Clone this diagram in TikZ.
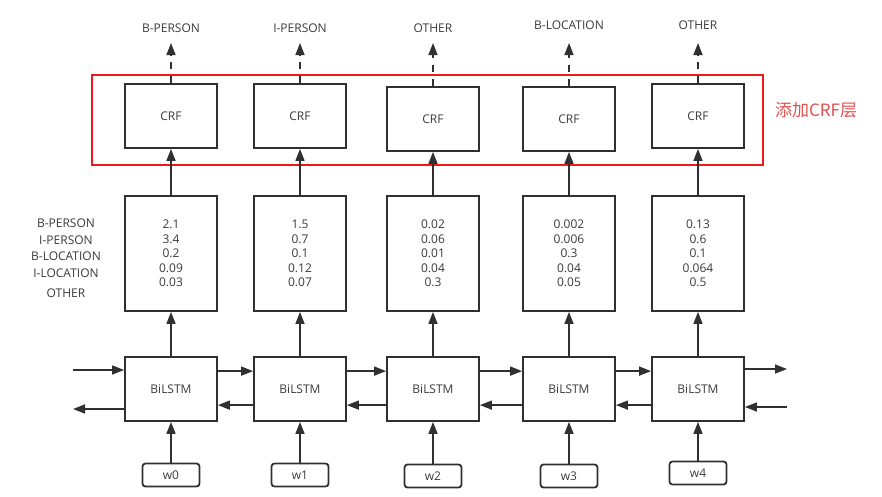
\documentclass[tikz,border=0pt]{standalone}
\usepackage{fontspec}
\setmainfont{Open Sans}
\newfontfamily\cjk{Noto Sans CJK SC}
\usetikzlibrary{arrows.meta,calc}

\definecolor{boxgray}{HTML}{303030}
\definecolor{txtgray}{HTML}{3A3A3A}
\definecolor{crfred}{HTML}{F01818}
\definecolor{notered}{HTML}{E0504F}
\newcommand\lblfont{\fontsize{12}{14.5}\selectfont}

\tikzset{
	box/.style={draw=boxgray, line width=1.8pt, minimum width=92pt, inner sep=0pt, font=\lblfont, text=txtgray},
	word/.style={draw=boxgray, line width=1.8pt, rounded corners=3pt, minimum width=57pt, minimum height=23pt, inner sep=0pt, font=\lblfont, text=txtgray},
	taglbl/.style={font=\lblfont, text=txtgray, inner sep=0pt},
	arr/.style={draw=boxgray, line width=1.5pt, -{Triangle[length=12pt,width=9pt]}},
	redbox/.style={draw=crfred, line width=1.9pt},
	note/.style={font=\cjk\fontsize{17}{20}\selectfont, text=notered, inner sep=0pt}
}

\begin{document}
\begin{tikzpicture}[x=1pt,y=-1pt]
	\useasboundingbox (0,0) rectangle (882,496);
	% CRF layer frame
	\draw[redbox] (92,75) rectangle (763,165);
	\node[note] (note) at (816,110) {添加CRF层};
	% columns
	\foreach \i/\x/\cy/\wy/\tag/\ty/\sc in {
		0/171/116/475/B-PERSON/28/{2.1\\3.4\\0.2\\0.09\\0.03},
		1/300/116/475/I-PERSON/28/{1.5\\0.7\\0.1\\0.12\\0.07},
		2/433/119/476/OTHER/28/{0.02\\0.06\\0.01\\0.04\\0.3},
		3/569/119/476/B-LOCATION/25/{0.002\\0.006\\0.3\\0.04\\0.05},
		4/698/116/473/OTHER/25/{0.13\\0.6\\0.1\\0.064\\0.5}}{
		\node[box, minimum height=64pt] (crf\i) at (\x,\cy) {CRF};
		\node[box, minimum height=115pt, align=center] (sc\i) at (\x,253.5) {\sc};
		\node[box, minimum height=64pt] (lstm\i) at (\x,389) {BiLSTM};
		\node[word] (w\i) at (\x,\wy) {w\i};
		\node[taglbl] (tag\i) at (\x,\ty) {\tag};
		\coordinate (top\i) at (\x,43);
		\draw[arr] (w\i) -- (lstm\i);
		\draw[arr] (lstm\i) -- (sc\i);
		\draw[arr] (sc\i) -- (crf\i);
		\draw[arr, dash pattern=on 7pt off 7pt] (crf\i) -- (top\i);
	}
	% forward and backward links
	\foreach \i [count=\j] in {0,...,3}{
		\draw[arr] ($(lstm\i.north east)+(0,15)$) -- ($(lstm\j.north west)+(0,15)$);
		\draw[arr] ($(lstm\j.north west)+(0,49)$) -- ($(lstm\i.north east)+(0,49)$);
	}
	\coordinate (inL) at (73,370);
	\coordinate (outL) at (73,409);
	\coordinate (outR) at (787,369);
	\coordinate (inR) at (787,407);
	\draw[arr] (inL) -- (lstm0.west |- inL);
	\draw[arr] (lstm0.west |- outL) -- (outL);
	\draw[arr] (lstm4.east |- outR) -- (outR);
	\draw[arr] (inR) -- (lstm4.east |- inR);
	% row labels
	\foreach \t/\y in {B-PERSON/223, I-PERSON/240, B-LOCATION/256, I-LOCATION/273, OTHER/293}
		\node[taglbl] (row\y) at (66,\y) {\t};
\end{tikzpicture}
\end{document}
